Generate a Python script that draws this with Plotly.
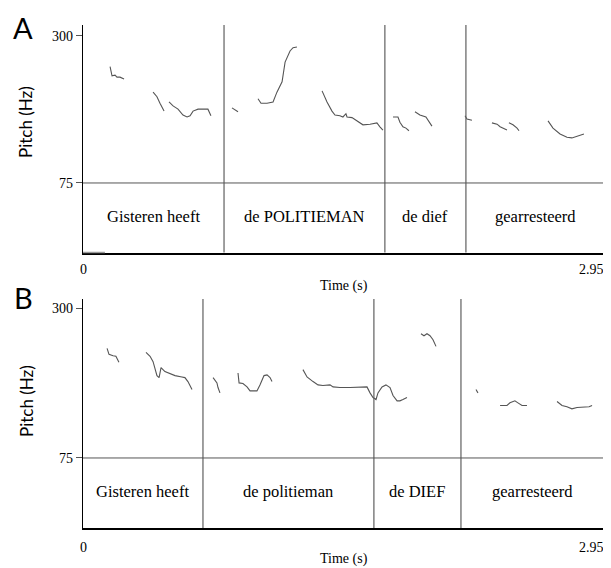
import plotly.graph_objects as go

T_MAX = 2.95

# ---- Panel A data ----
A_labels = ["Gisteren heeft", "de POLITIEMAN", "de dief", "gearresteerd"]
A_bounds = [0.0, 0.797, 1.706, 2.164, 2.95]
A_contours = [
    ([0.153, 0.164, 0.181, 0.192, 0.209, 0.232], [253, 239, 240, 237, 237, 234]),
    ([0.396, 0.418, 0.435, 0.458], [214, 207, 197, 185]),
    ([0.486, 0.509, 0.537, 0.565, 0.588, 0.605, 0.622, 0.650, 0.706, 0.723],
     [199, 193, 188, 179, 176, 178, 185, 188, 188, 178]),
    ([0.842, 0.876], [190, 184]),
    ([0.989, 1.006, 1.040, 1.074, 1.096, 1.125, 1.142, 1.170, 1.187, 1.209],
     [204, 197, 197, 199, 214, 230, 260, 277, 282, 283]),
    ([1.351, 1.379, 1.407, 1.424, 1.452, 1.469, 1.486, 1.492, 1.520, 1.548, 1.582, 1.622, 1.661, 1.678, 1.695],
     [216, 199, 185, 179, 178, 176, 181, 176, 175, 170, 164, 165, 167, 161, 156]),
    ([1.752, 1.780, 1.791, 1.808, 1.825, 1.842], [176, 176, 168, 161, 159, 155]),
    ([1.876, 1.904, 1.938, 1.955, 1.972], [184, 179, 176, 168, 162]),
    ([2.159, 2.170, 2.198], [178, 173, 171]),
    ([2.311, 2.340, 2.357, 2.374, 2.396], [167, 165, 161, 159, 156]),
    ([2.407, 2.430, 2.453, 2.464], [167, 164, 159, 155]),
    ([2.628, 2.656, 2.696, 2.735, 2.763, 2.792, 2.831], [170, 159, 150, 145, 144, 147, 150]),
]

# ---- Panel B data ----
B_labels = ["Gisteren heeft", "de politieman", "de DIEF", "gearresteerd"]
B_bounds = [0.0, 0.678, 1.644, 2.136, 2.95]
B_contours = [
    ([0.136, 0.147, 0.170, 0.186, 0.203], [240, 231, 229, 228, 219]),
    ([0.356, 0.379, 0.396, 0.407, 0.418, 0.430, 0.441, 0.463, 0.492, 0.520, 0.559, 0.576, 0.593, 0.616],
     [234, 228, 220, 208, 199, 196, 211, 205, 202, 199, 197, 196, 190, 178]),
    ([0.735, 0.757, 0.763, 0.774], [196, 188, 181, 173]),
    ([0.876, 0.882, 0.904, 0.927, 0.944, 0.983, 1.000, 1.023, 1.040, 1.057, 1.068],
     [203, 188, 187, 182, 176, 176, 185, 199, 200, 196, 190]),
    ([1.243, 1.266, 1.300, 1.328, 1.356, 1.396, 1.413, 1.452, 1.509, 1.565, 1.605, 1.622,
      1.639, 1.656, 1.667, 1.690, 1.712, 1.735, 1.752, 1.775, 1.791, 1.808, 1.831],
     [208, 197, 190, 185, 184, 185, 182, 181, 181, 182, 182, 173,
      166, 163, 173, 182, 185, 181, 169, 161, 161, 163, 166]),
    ([1.910, 1.927, 1.944, 1.961, 1.978, 1.995], [262, 259, 262, 259, 253, 243]),
    ([2.221, 2.232], [178, 173]),
    ([2.357, 2.396, 2.413, 2.441, 2.458, 2.481, 2.509], [154, 154, 158, 161, 158, 154, 154]),
    ([2.679, 2.707, 2.735, 2.763, 2.792, 2.820, 2.848, 2.860, 2.877],
     [160, 154, 152, 149, 151, 151, 151, 152, 154]),
]

Y_TICKS = [75, 300]
X_TICK_LABELS = ["0", "2.95"]

# The page body has an 8px margin; lay out in window pixels and shift by it.
OFF = 8
W, H = 611 - OFF, 568 - OFF
def px_x(px):
    return (px - OFF) / W
def px_y(px):
    return 1 - (px - OFF) / H

fig = go.Figure()

SERIF = "Liberation Serif"
CONTOUR_COLOR = "#555555"

panels = [
    dict(ax="x", ay="y", labels=A_labels, bounds=A_bounds, contours=A_contours,
         top=25, bottom=252.5, yrange=[-31.4, 316.8], letter="A",
         letter_top=9, pitch_y=122, tick_y=269, time_y=286),
    dict(ax="x2", ay="y2", labels=B_labels, bounds=B_bounds, contours=B_contours,
         top=299, bottom=528, yrange=[-30.4, 314.3], letter="B",
         letter_top=279, pitch_y=401, tick_y=547, time_y=559),
]

shapes = []
annotations = []
for p in panels:
    for t, f in p["contours"]:
        fig.add_trace(go.Scatter(x=t, y=f, mode="lines", xaxis=p["ax"], yaxis=p["ay"],
                                 line=dict(color=CONTOUR_COLOR, width=1.1),
                                 showlegend=False, hoverinfo="skip"))
    xref = p["ax"]
    ydom = p["ay"] + " domain"
    for b in p["bounds"][1:-1]:
        shapes.append(dict(type="line", xref=xref, yref=ydom, x0=b, x1=b, y0=0, y1=1,
                           line=dict(color="#606060", width=1.2)))
    shapes.append(dict(type="line", xref=xref, yref=ydom, x0=T_MAX, x1=T_MAX, y0=0, y1=1,
                       line=dict(color="black", width=2)))
    shapes.append(dict(type="line", xref=xref, yref=p["ay"], x0=0, x1=T_MAX,
                       y0=Y_TICKS[0], y1=Y_TICKS[0], line=dict(color="#555555", width=1)))
    bd = p["bounds"]
    for i, lab in enumerate(p["labels"]):
        annotations.append(dict(x=(bd[i] + bd[i + 1]) / 2, y=24, xref=xref, yref=p["ay"],
                                text=lab, showarrow=False,
                                font=dict(family=SERIF, size=16.5, color="black")))
    annotations.append(dict(x=0, y=px_y(p["tick_y"]), xref=xref, yref="paper", text=X_TICK_LABELS[0],
                            showarrow=False, xanchor="center", yanchor="middle",
                            font=dict(family=SERIF, size=14, color="black")))
    annotations.append(dict(x=T_MAX, y=px_y(p["tick_y"]), xref=xref, yref="paper", text=X_TICK_LABELS[1],
                            showarrow=False, xanchor="right", yanchor="middle", xshift=1,
                            font=dict(family=SERIF, size=14, color="black")))
    annotations.append(dict(x=T_MAX / 2, y=px_y(p["time_y"]), xref=xref, yref="paper", text="Time (s)",
                            showarrow=False, xanchor="center", yanchor="middle",
                            font=dict(family=SERIF, size=14, color="black")))
    annotations.append(dict(x=px_x(26), y=px_y(p["pitch_y"]), xref="paper", yref="paper", text="Pitch (Hz)",
                            showarrow=False, textangle=-90, xanchor="center", yanchor="middle",
                            font=dict(family="Lato", size=17, color="black")))
    annotations.append(dict(x=px_x(23), y=px_y(p["letter_top"]), xref="paper", yref="paper", text=p["letter"],
                            showarrow=False, xanchor="center", yanchor="top", borderpad=0,
                            font=dict(family="Lato", size=29, color="black")))

# lighter start of panel A's bottom line
shapes.append(dict(type="line", xref="x", yref="y domain", x0=0, x1=0.124, y0=0, y1=0,
                   line=dict(color="#9a9a9a", width=1.5)))

xdom = [px_x(83), px_x(605)]
axis_x = dict(range=[0, T_MAX], domain=xdom, showgrid=False, zeroline=False,
              showticklabels=False, ticks="", showline=True, linecolor="black", linewidth=1.5)
axis_y_common = dict(showgrid=False, zeroline=False, tickvals=Y_TICKS,
                     ticktext=[str(v) for v in Y_TICKS], ticks="outside", ticklen=6,
                     tickcolor="#555555", showline=True, linecolor="black", linewidth=1.2,
                     tickfont=dict(family=SERIF, size=14, color="black"))

fig.update_layout(
    width=W, height=H, margin=dict(l=0, r=0, t=0, b=0, autoexpand=False),
    paper_bgcolor="white", plot_bgcolor="white",
    xaxis=dict(axis_x, anchor="y"),
    xaxis2=dict(axis_x, anchor="y2"),
    yaxis=dict(axis_y_common, range=panels[0]["yrange"],
               domain=[px_y(panels[0]["bottom"]), px_y(panels[0]["top"])], anchor="x"),
    yaxis2=dict(axis_y_common, range=panels[1]["yrange"],
                domain=[px_y(panels[1]["bottom"]), px_y(panels[1]["top"])], anchor="x2"),
    shapes=shapes, annotations=annotations, showlegend=False,
)

fig.write_html("out.html")
